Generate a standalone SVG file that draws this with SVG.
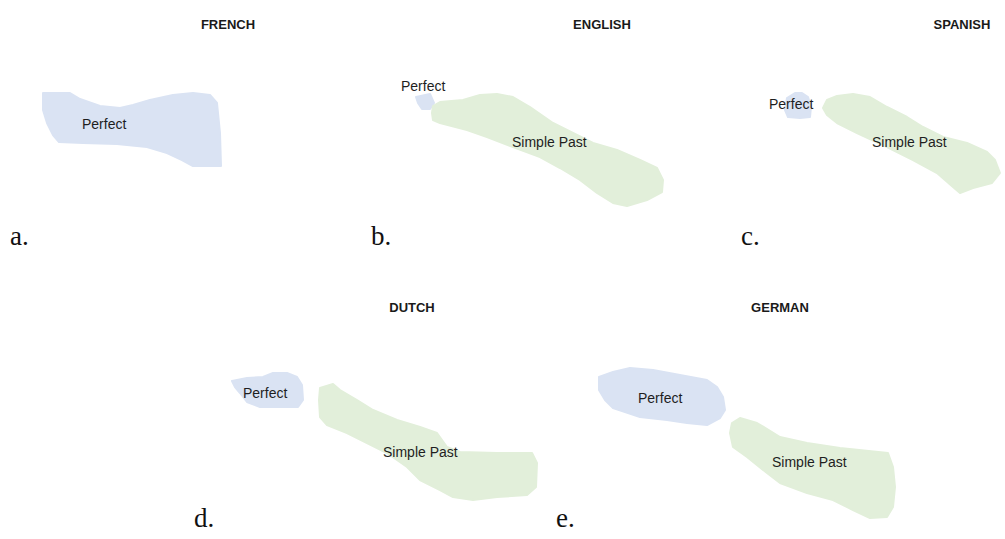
<svg xmlns="http://www.w3.org/2000/svg" width="1005" height="539" viewBox="0 0 1005 539">
<style>
.bg{fill:#ffffff}
.perf{fill:#dae3f3;stroke:#dae3f3;stroke-width:2;stroke-linejoin:round}
.past{fill:#e2efda;stroke:#e2efda;stroke-width:2;stroke-linejoin:round}
.title{font-family:"Liberation Sans",Arial,sans-serif;font-weight:bold;font-size:13px;fill:#1a1a1a;text-anchor:middle}
.lbl{font-family:"Liberation Sans",Arial,sans-serif;font-size:14px;fill:#1e1e1e}
.let{font-family:"Liberation Serif","Times New Roman",serif;font-size:27px;fill:#111111}
</style>
<rect class="bg" x="0" y="0" width="1005" height="539"/>

<g id="panel-a">
  <text class="title" x="228" y="29">FRENCH</text>
  <g id="a-perfect">
    <polygon class="perf" points="43,93 70,93 80,99 100,106 120,108 133,105 150,100 173,95 193,93 210,95 217,103 220,133 221,166 193,166 182,160 167,153 147,147 117,144 83,143 59,142 53,135 47,123 43,110"/>
    <text class="lbl" x="82" y="129">Perfect</text>
  </g>
  <text class="let" x="10" y="245">a.</text>
</g>

<g id="panel-b">
  <text class="title" x="602" y="29">ENGLISH</text>
  <g id="b-perfect">
    <polygon class="perf" points="416,97 430,94 434,103 430,109 422,109 418,103"/>
    <text class="lbl" x="401" y="91">Perfect</text>
  </g>
  <g id="b-past">
    <polygon class="past" points="433,106 440,102 463,100 480,95 497,94 513,97 530,107 553,123 573,133 593,143 617,150 640,160 657,168 663,180 662,192 647,200 627,206 613,203 597,193 580,180 560,168 540,157 513,147 487,137 467,130 440,123 433,120 432,113"/>
    <text class="lbl" x="512" y="147">Simple Past</text>
  </g>
  <text class="let" x="371" y="245">b.</text>
</g>

<g id="panel-c">
  <text class="title" x="962" y="29">SPANISH</text>
  <g id="c-perfect">
    <polygon class="perf" points="787,98 795,93 802,93 808,97 811,107 810,117 800,118 788,117 785,110"/>
    <text class="lbl" x="769" y="109">Perfect</text>
  </g>
  <g id="c-past">
    <polygon class="past" points="827,100 837,96 853,94 870,97 887,107 907,117 923,127 943,137 967,143 987,152 995,160 1000,173 992,183 973,188 960,193 953,187 937,173 913,160 887,147 857,133 837,123 827,115 823,108"/>
    <text class="lbl" x="872" y="147">Simple Past</text>
  </g>
  <text class="let" x="741" y="245">c.</text>
</g>

<g id="panel-d">
  <text class="title" x="412" y="312">DUTCH</text>
  <g id="d-perfect">
    <polygon class="perf" points="232,381 247,378 263,377 273,373 287,373 297,377 302,385 303,400 298,407 280,407 260,407 247,402 240,393 235,387"/>
    <text class="lbl" x="243" y="398">Perfect</text>
  </g>
  <g id="d-past">
    <polygon class="past" points="320,388 333,384 340,390 357,400 373,410 397,420 420,427 437,433 447,447 460,452 497,453 532,453 537,463 536,487 527,495 497,497 473,500 453,497 440,490 420,480 407,467 387,453 367,443 347,433 327,425 320,417 319,400"/>
    <text class="lbl" x="383" y="457">Simple Past</text>
  </g>
  <text class="let" x="194" y="527">d.</text>
</g>

<g id="panel-e">
  <text class="title" x="780" y="312">GERMAN</text>
  <g id="e-perfect">
    <polygon class="perf" points="599,377 613,372 630,368 653,370 680,375 707,380 717,387 723,397 725,410 720,418 707,425 687,423 667,420 640,417 613,408 605,400 599,390"/>
    <text class="lbl" x="638" y="403">Perfect</text>
  </g>
  <g id="e-past">
    <polygon class="past" points="732,423 740,418 757,423 780,437 807,443 840,448 888,453 893,467 895,487 893,507 887,517 870,518 853,510 833,500 807,493 780,483 767,473 747,457 733,447 730,433"/>
    <text class="lbl" x="772" y="467">Simple Past</text>
  </g>
  <text class="let" x="556" y="527">e.</text>
</g>
</svg>
